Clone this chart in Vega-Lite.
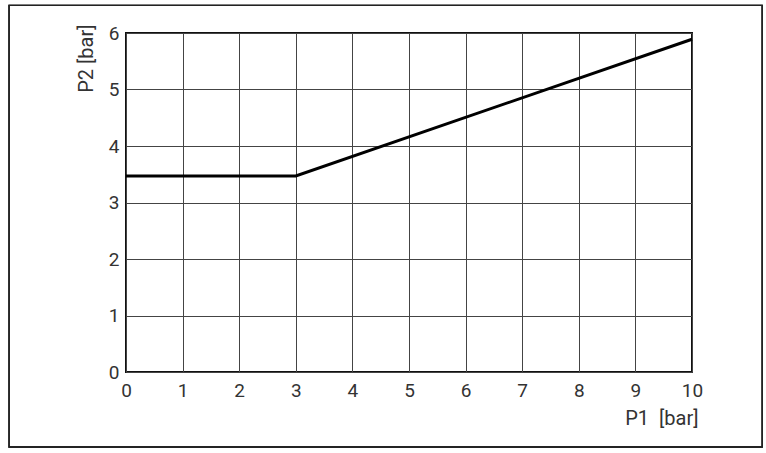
{
  "$schema": "https://vega.github.io/schema/vega-lite/v6.json",
  "width": 566,
  "height": 339,
  "autosize": {"type": "pad"},
  "padding": {"left": 8, "top": 4, "right": 4, "bottom": 7},
  "data": {
    "values": [
      {"P1": 0, "P2": 3.47},
      {"P1": 3, "P2": 3.47},
      {"P1": 10, "P2": 5.89}
    ]
  },
  "layer": [
    {
      "mark": {"type": "rect", "fill": null, "stroke": "#222", "strokeWidth": 1.3, "clip": false},
      "encoding": {
        "x": {"datum": -2.066, "type": "quantitative"},
        "x2": {"datum": 11.24},
        "y": {"datum": -1.327, "type": "quantitative"},
        "y2": {"datum": 6.49}
      }
    },
    {
      "mark": {"type": "line", "color": "#000", "strokeWidth": 3},
      "encoding": {
        "x": {
          "field": "P1",
          "type": "quantitative",
          "scale": {"domain": [0, 10], "nice": false, "zero": false},
          "axis": {
            "title": "P1\u00a0\u00a0[bar]",
            "values": [0, 1, 2, 3, 4, 5, 6, 7, 8, 9, 10],
            "format": "d",
            "titleAnchor": "end",
            "titleAlign": "right",
            "titleBaseline": "middle",
            "titleX": 572,
            "titleY": 46,
            "labelPadding": 9
          }
        },
        "y": {
          "field": "P2",
          "type": "quantitative",
          "scale": {"domain": [0, 6], "nice": false},
          "axis": {
            "title": "P2 [bar]",
            "values": [0, 1, 2, 3, 4, 5, 6],
            "format": "d",
            "titleAngle": -90,
            "titleAlign": "right",
            "titleBaseline": "middle",
            "titleX": -40,
            "titleY": -9,
            "labelPadding": 7
          }
        }
      }
    }
  ],
  "config": {
    "view": {"stroke": "#111", "strokeWidth": 2},
    "font": "Roboto",
    "axis": {
      "domain": false,
      "ticks": false,
      "grid": true,
      "gridColor": "#444",
      "gridWidth": 1,
      "gridOpacity": 1,
      "labelFont": "Roboto",
      "labelFontSize": 19,
      "labelColor": "#333",
      "labelFontWeight": "normal",
      "labelFlush": false,
      "labelOverlap": false,
      "titleFont": "Roboto",
      "titleFontSize": 20,
      "titleFontWeight": "normal",
      "titleColor": "#333"
    }
  }
}
